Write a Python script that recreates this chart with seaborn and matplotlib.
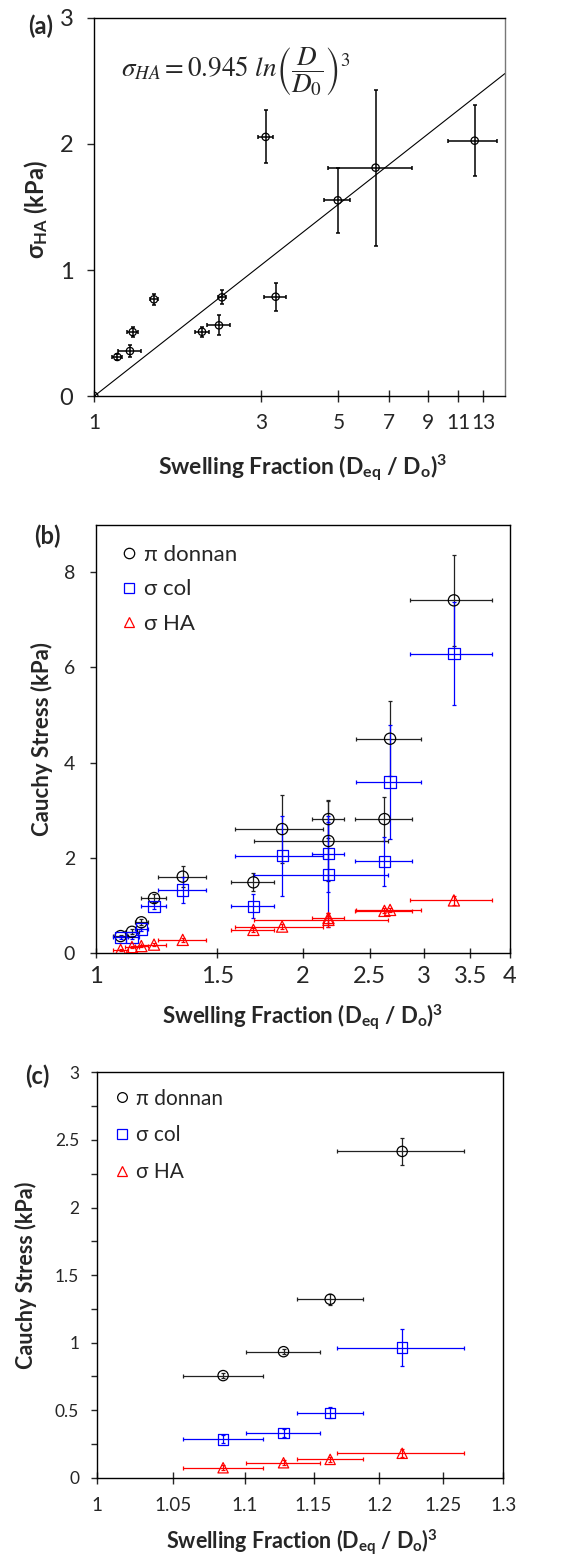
import numpy as np
import pandas as pd
import matplotlib
matplotlib.use('Agg')
import matplotlib.pyplot as plt
from matplotlib.lines import Line2D
from matplotlib.ticker import FixedLocator, NullLocator
import seaborn as sns

sns.set_style('ticks')
plt.rcParams['font.family'] = ['Lato', 'DejaVu Sans']
plt.rcParams['mathtext.fontset'] = 'custom'
plt.rcParams['mathtext.rm'] = 'Lato'
plt.rcParams['mathtext.bf'] = 'Lato:bold'
plt.rcParams['mathtext.it'] = 'Lato:italic'

#%% data, panel (a): sigma_HA vs swelling fraction
a_x = [1.0, 1.164, 1.265, 1.288, 1.482, 2.034, 2.275, 2.32, 3.095, 3.306, 4.98, 6.39, 12.28]
a_y = [0.0, 0.31, 0.357, 0.508, 0.767, 0.51, 0.561, 0.783, 2.056, 0.788, 1.553, 1.812, 2.026]
a_xerr = [0.0, 0.04, 0.094, 0.05, 0.035, 0.096, 0.175, 0.06, 0.15, 0.24, 0.42, 1.73, 1.95]
a_yerr = [0.0, 0.025, 0.05, 0.04, 0.045, 0.04, 0.08, 0.055, 0.21, 0.11, 0.26, 0.62, 0.28]
fit_coef = 0.945
fit_range = [1.0, 15.0]
a_ticks = [1, 3, 5, 7, 9, 11, 13]

#%% panel (b)
b_x = [1.086, 1.128, 1.164, 1.2145, 1.337, 1.694, 1.865, 2.178, 2.178, 2.627, 2.677, 3.315]
b_xerr = [0.028, 0.027, 0.025, 0.05, 0.106, 0.12, 0.27, 0.12, 0.48, 0.25, 0.29, 0.45]
b_donnan = [0.35, 0.44, 0.64, 1.15, 1.6, 1.48, 2.60, 2.81, 2.35, 2.81, 4.5, 7.41]
b_donnan_err = [0.03, 0.05, 0.06, 0.08, 0.22, 0.19, 0.72, 0.40, 0.85, 0.47, 0.79, 0.96]
b_col = [0.32, 0.32, 0.50, 0.98, 1.32, 0.98, 2.04, 2.08, 1.64, 1.92, 3.59, 6.29]
b_col_err = [0.03, 0.04, 0.05, 0.06, 0.27, 0.26, 0.84, 0.8, 1.1, 0.51, 1.19, 1.08]
b_ha = [0.06, 0.12, 0.14, 0.17, 0.27, 0.48, 0.55, 0.73, 0.69, 0.88, 0.90, 1.10]
b_ha_err = [0.02, 0.02, 0.02, 0.03, 0.04, 0.05, 0.06, 0.1, 0.15, 0.05, 0.05, 0.1]
b_ticks = [1, 1.5, 2, 2.5, 3, 3.5, 4]

#%% panel (c)
c_x = [1.0847, 1.1279, 1.1624, 1.2178]
c_xerr = [0.028, 0.027, 0.025, 0.05]
c_donnan = [0.756, 0.933, 1.321, 2.415]
c_donnan_err = [0.02, 0.02, 0.04, 0.1]
c_col = [0.284, 0.329, 0.481, 0.963]
c_col_err = [0.03, 0.03, 0.04, 0.137]
c_ha = [0.074, 0.111, 0.136, 0.181]
c_ha_err = [0.02, 0.02, 0.02, 0.03]
c_ticks = [1, 1.05, 1.1, 1.15, 1.2, 1.25, 1.3]
c_yticks = [0, 0.5, 1, 1.5, 2, 2.5, 3]
c_yminor = [0.25, 0.75, 1.25, 1.75, 2.25, 2.75]

labels = ['\u03c0 donnan', '\u03c3 col', '\u03c3 HA']
markers = ['o', 's', '^']
colors = ['k', '#0000ff', '#ff0000']
ecolors = ['#222222', '#0000ff', '#ff0000']

xlab = r'Swelling Fraction (D$_{\mathbf{eq}}$ / D$_{\mathbf{o}}$)$^{\mathbf{3}}$'


def draw(ax, x, y, xerr, yerr, marker, color, ecolor, s, elw=0.9, cap=1.5):
    ax.errorbar(x, y, xerr=xerr, yerr=yerr, fmt='none', ecolor=ecolor,
                elinewidth=elw, capsize=cap, capthick=elw, zorder=2)
    sns.scatterplot(x=x, y=y, marker=marker, s=s, color=color, linewidth=0.9,
                    ax=ax, zorder=3)
    pts = ax.collections[-1]
    pts.set_facecolor('none')
    pts.set_edgecolor(color)


def style_axes(ax):
    for sp in ax.spines.values():
        sp.set_visible(True)
        sp.set_color('black')
        sp.set_linewidth(1)


fig = plt.figure(figsize=(5.62, 15.58), dpi=100)
axA = fig.add_axes([0.1678, 0.7458, 0.7308, 0.2427])
axB = fig.add_axes([0.1708, 0.3885, 0.7367, 0.2747])
axC = fig.add_axes([0.1731, 0.0515, 0.7224, 0.2602])

#%% (a)
axA.set_xscale('log')
draw(axA, a_x, a_y, a_xerr, a_yerr, 'o', 'k', 'k', 28, elw=1.1, cap=1.5)
fx = np.array(fit_range)
sns.lineplot(x=fx, y=fit_coef * np.log(fx), color='k', linewidth=0.8, ax=axA)
axA.set_xlim(1, 15)
axA.set_ylim(0, 3)
axA.xaxis.set_major_locator(FixedLocator(a_ticks))
axA.xaxis.set_minor_locator(NullLocator())
axA.set_xticklabels([str(t) for t in a_ticks])
axA.set_yticks([0, 1, 2, 3])
axA.set_yticklabels(['0', '1', '2', '3'])
axA.tick_params(axis='x', direction='inout', length=9, width=1, labelsize=15, pad=8)
axA.tick_params(axis='y', direction='out', length=5, width=1, labelsize=17, pad=10)
style_axes(axA)
axA.spines['right'].set_color('#777777')
axA.text(0.065, 0.857, r'$\sigma_{HA}=0.945\ ln\left(\dfrac{D}{D_0}\right)^3$',
         transform=axA.transAxes, math_fontfamily='stix', fontsize=19.5, va='center')
axA.set_xlabel(xlab, fontsize=16.5, fontweight='bold')
axA.xaxis.set_label_coords(0.507, -0.15)
axA.set_ylabel(r'$\mathbf{\sigma_{HA}}$ (kPa)', fontsize=17, fontweight='bold')
axA.yaxis.set_label_coords(-0.108, 0.492)

#%% (b)
axB.set_xscale('log')
for yv, ye, m, c, ec in zip([b_donnan, b_col, b_ha], [b_donnan_err, b_col_err, b_ha_err],
                           markers, colors, ecolors):
    draw(axB, b_x, yv, b_xerr, ye, m, c, ec, 65)
axB.set_xlim(1, 4)
axB.set_ylim(0, 9)
axB.xaxis.set_major_locator(FixedLocator(b_ticks))
axB.xaxis.set_minor_locator(NullLocator())
axB.set_xticklabels(['1', '1.5', '2', '2.5', '3', '3.5', '4'])
axB.set_yticks([0, 2, 4, 6, 8])
axB.set_yticklabels(['0', '2', '4', '6', '8'])
axB.tick_params(axis='x', direction='inout', length=7, width=1, labelsize=17, pad=6)
axB.tick_params(axis='y', direction='out', length=4, width=1, labelsize=14, pad=11)
style_axes(axB)
axB.set_xlabel(xlab, fontsize=16, fontweight='bold')
axB.xaxis.set_label_coords(0.498, -0.117)
axB.set_ylabel('Cauchy Stress (kPa)', fontsize=16, fontweight='bold')
axB.yaxis.set_label_coords(-0.104, 0.5)
hb = [Line2D([], [], ls='none', marker=m, mfc='none', mec=c, ms=7.5, mew=0.9)
      for m, c in zip(markers, colors)]
axB.legend(hb, labels, loc='upper left', bbox_to_anchor=(0.058, 0.953), frameon=False,
           fontsize=16, handlelength=0.8, handletextpad=0.3, labelspacing=0.65,
           borderaxespad=0, borderpad=0)

#%% (c)
axC.set_xscale('log')
for yv, ye, m, c, ec in zip([c_donnan, c_col, c_ha], [c_donnan_err, c_col_err, c_ha_err],
                           markers, colors, ecolors):
    draw(axC, c_x, yv, c_xerr, ye, m, c, ec, 55)
axC.set_xlim(1, 1.3)
axC.set_ylim(0, 3)
axC.xaxis.set_major_locator(FixedLocator(c_ticks))
axC.xaxis.set_minor_locator(NullLocator())
axC.set_xticklabels(['1', '1.05', '1.1', '1.15', '1.2', '1.25', '1.3'])
axC.yaxis.set_major_locator(FixedLocator(c_yticks))
axC.yaxis.set_minor_locator(FixedLocator(c_yminor))
axC.set_yticklabels(['0', '0.5', '1', '1.5', '2', '2.5', '3'])
axC.tick_params(axis='x', direction='inout', length=8, width=1, labelsize=13.5, pad=10)
axC.tick_params(axis='y', which='both', direction='out', length=4, width=1, labelsize=12.5, pad=9)
style_axes(axC)
axC.set_xlabel(xlab, fontsize=15.5, fontweight='bold')
axC.xaxis.set_label_coords(0.503, -0.124)
axC.set_ylabel('Cauchy Stress (kPa)', fontsize=15.5, fontweight='bold')
axC.yaxis.set_label_coords(-0.1485, 0.5)
hc = [Line2D([], [], ls='none', marker=m, mfc='none', mec=c, ms=7, mew=0.9)
      for m, c in zip(markers, colors)]
axC.legend(hc, labels, loc='upper left', bbox_to_anchor=(0.04, 0.96), frameon=False,
           fontsize=15, handlelength=0.8, handletextpad=0.3, labelspacing=0.8,
           borderaxespad=0, borderpad=0)

#%% panel letters
fig.text(41 / 562, 1 - 26 / 1558, '(a)', fontsize=17, fontweight='bold', ha='center', va='center')
fig.text(47.5 / 562, 1 - 536.7 / 1558, '(b)', fontsize=17, fontweight='bold', ha='center', va='center')
fig.text(37 / 562, 1 - 1076 / 1558, '(c)', fontsize=17, fontweight='bold', ha='center', va='center')

fig.savefig('out.png', dpi=100)
